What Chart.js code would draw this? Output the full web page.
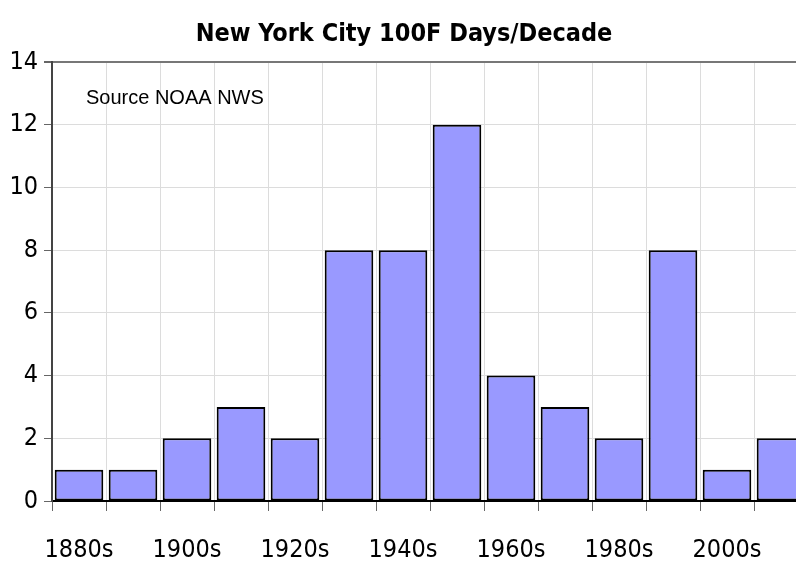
<!DOCTYPE html>
<html>
<head>
<meta charset="utf-8">
<script src="https://cdn.jsdelivr.net/npm/chart.js@4.4.1/dist/chart.umd.min.js"></script>
<style>
  html, body { margin: 0; padding: 0; background: #fff; overflow: hidden; }
  #wrap { width: 808px; height: 567px; }
</style>
</head>
<body>
<div id="wrap"><canvas id="c" width="808" height="567"></canvas></div>
<script>
// NYC days at or above 100F, per decade
const decades = ['1880s', '1890s', '1900s', '1910s', '1920s', '1930s', '1940s',
                 '1950s', '1960s', '1970s', '1980s', '1990s', '2000s', '2010s'];
const days = [1, 1, 2, 3, 2, 8, 8, 12, 4, 3, 2, 8, 1, 2];
const yTicks = [0, 2, 4, 6, 8, 10, 12, 14];

const NARROW = "'Liberation Sans Narrow', 'DejaVu Sans Condensed', 'Arial Narrow', sans-serif";

// "Source NOAA NWS" note inside the plot
const sourceNote = {
  id: 'sourceNote',
  afterDraw(chart) {
    const { ctx, chartArea } = chart;
    ctx.save();
    ctx.font = "20px 'Liberation Sans', Arial, sans-serif";
    ctx.fillStyle = '#000';
    ctx.textBaseline = 'middle';
    ctx.fillText('Source NOAA NWS', chartArea.left + 34, chartArea.top + 36);
    ctx.restore();
  }
};

new Chart(document.getElementById('c'), {
  type: 'bar',
  data: {
    labels: decades,
    datasets: [{
      data: days,
      backgroundColor: '#9999ff',
      borderColor: '#000',
      borderWidth: 2,
      borderSkipped: false,
      categoryPercentage: 1,
      barPercentage: 0.9,
    }]
  },
  options: {
    responsive: false,
    animation: false,
    layout: { padding: 0 },
    plugins: {
      legend: { display: false },
      tooltip: { enabled: false },
      title: {
        display: true,
        text: 'New York City 100F Days/Decade',
        color: '#000',
        font: { family: NARROW, size: 25, weight: 'bold' },
        padding: { top: 19, bottom: 13 }
      }
    },
    scales: {
      x: {
        offset: true,
        border: { color: '#000', width: 2 },
        grid: { offset: true, color: '#dcdcdc', tickColor: '#666', tickLength: 10 },
        ticks: {
          autoSkip: false,
          maxRotation: 0,
          color: '#000',
          padding: 24,
          font: { family: NARROW, size: 25 },
          callback: (v, i) => i % 2 === 0 ? decades[i] : ''
        },
        afterFit: s => { s.height = 66; }
      },
      y: {
        min: 0,
        max: 14,
        afterBuildTicks: s => { s.ticks = yTicks.map(v => ({ value: v })); },
        border: { color: '#444', width: 2 },
        grid: {
          color: c => c.tick && c.tick.value === 14 ? '#777' : '#dcdcdc',
          lineWidth: c => c.tick && c.tick.value === 14 ? 2 : 1,
          tickColor: '#666',
          tickLength: 8
        },
        ticks: {
          color: '#000',
          padding: 6,
          font: { family: NARROW, size: 25 }
        },
        afterFit: s => { s.width = 52; }
      }
    }
  },
  plugins: [sourceNote]
});
</script>
</body>
</html>
